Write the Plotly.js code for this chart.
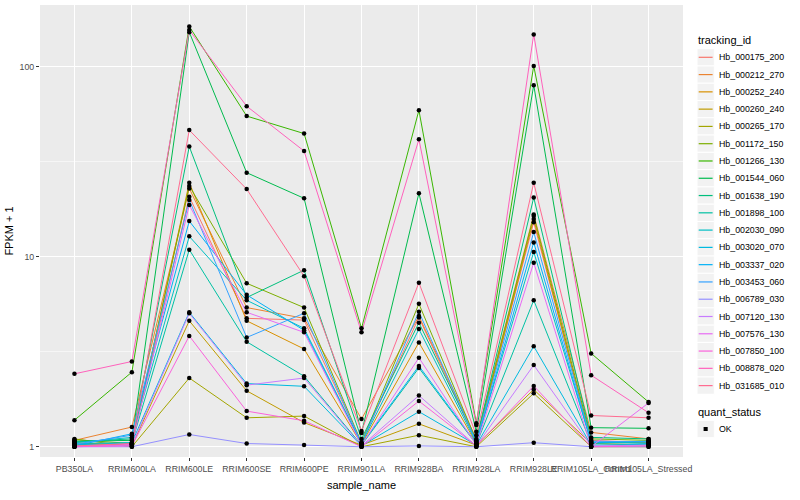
<!DOCTYPE html>
<html><head><meta charset="utf-8">
<script src="https://cdn.plot.ly/plotly-3.0.1.min.js"></script>
<style>body{margin:0;background:#fff}#chart{width:800px;height:500px}</style>
</head><body><div id="chart"></div>
<script>
const categories = ["PB350LA","RRIM600LA","RRIM600LE","RRIM600SE","RRIM600PE","RRIM901LA","RRIM928BA","RRIM928LA","RRIM928LE","RRIM105LA_Control","RRIM105LA_Stressed"];

const trackingIds = ["Hb_000175_200","Hb_000212_270","Hb_000252_240","Hb_000260_240","Hb_000265_170","Hb_001172_150","Hb_001266_130","Hb_001544_060","Hb_001638_190","Hb_001898_100","Hb_002030_090","Hb_003020_070","Hb_003337_020","Hb_003453_060","Hb_006789_030","Hb_007120_130","Hb_007576_130","Hb_007850_100","Hb_008878_020","Hb_031685_010"];

const seriesColors = ["#F8766D","#EA8331","#D89000","#C09B00","#A3A500","#7CAE00","#39B600","#00BB4E","#00BF7D","#00C1A3","#00BFC4","#00BAE0","#00B0F6","#35A2FF","#9590FF","#C77CFF","#E76BF3","#FA62DB","#FF62BC","#FF6C91"];

// FPKM + 1 per sample (order of categories)
const hb_000175_200 = [1.02, 1.03, 20.7, 4.74, 4.64, 1.05, 4.79, 1.06, 15.2, 1.08, 1.05];
const hb_000212_270 = [1.08, 1.27, 22.9, 5.4, 4.74, 1.4, 4.87, 1.1, 16.7, 1.19, 1.1];
const hb_000252_240 = [1.05, 1.02, 24.5, 4.6, 3.27, 1.03, 3.54, 1.04, 15.8, 1.05, 1.05];
const hb_000260_240 = [1.03, 1.01, 4.6, 1.97, 1.34, 1.02, 1.32, 1.02, 2.0, 1.04, 1.02];
const hb_000265_170 = [1.1, 1.0, 2.3, 1.42, 1.45, 1.0, 1.15, 1.0, 1.91, 1.0, 1.0];
const hb_001172_150 = [1.09, 1.04, 23.6, 7.25, 5.4, 1.05, 5.65, 1.08, 16.4, 1.1, 1.08];
const hb_001266_130 = [1.38, 2.47, 163, 55, 44.5, 4.2, 59, 1.33, 101, 3.1, 1.72];
const hb_001544_060 = [1.07, 1.08, 152, 27.7, 20.3, 1.18, 21.6, 1.2, 80, 1.26, 1.25];
const hb_001638_190 = [1.06, 1.1, 38, 6.1, 8.5, 1.1, 4.49, 1.08, 20.5, 1.12, 1.1];
const hb_001898_100 = [1.04, 1.05, 10.9, 3.57, 2.35, 1.02, 2.6, 1.03, 5.9, 1.04, 1.06];
const hb_002030_090 = [1.05, 1.12, 12.8, 5.9, 4.2, 1.04, 4.16, 1.05, 10.6, 1.06, 1.04];
const hb_003020_070 = [1.02, 1.05, 5.1, 2.15, 2.08, 1.01, 1.53, 1.02, 3.38, 1.02, 1.03];
const hb_003337_020 = [1.01, 1.17, 15.4, 6.3, 4.1, 1.03, 2.66, 1.04, 11.9, 1.05, 1.07];
const hb_003453_060 = [1.03, 1.15, 19.9, 3.76, 5.04, 1.04, 5.13, 1.06, 13.5, 1.07, 1.06];
const hb_006789_030 = [1.0, 1.0, 1.16, 1.04, 1.02, 1.0, 1.01, 1.0, 1.05, 1.0, 1.0];
const hb_007120_130 = [1.0, 1.02, 5.04, 2.11, 2.3, 1.01, 1.86, 1.01, 2.69, 1.01, 1.02];
const hb_007576_130 = [1.0, 1.03, 18.7, 5.1, 4.0, 1.02, 2.94, 1.02, 9.3, 1.0, 1.7];
const hb_007850_100 = [1.0, 1.01, 3.83, 1.54, 1.37, 1.0, 1.74, 1.01, 2.09, 1.0, 1.01];
const hb_008878_020 = [2.42, 2.81, 156, 62, 36, 4.0, 41.5, 1.3, 148, 2.38, 1.51];
const hb_031685_010 = [1.01, 1.04, 46.4, 22.7, 7.9, 1.21, 7.3, 1.15, 24.5, 1.46, 1.42];

const yTickVals = [1, 10, 100];
const yTickText = ["1", "10", "100"];
const yMinorVals = [3.1623, 31.623];
const quantStatus = ["OK"];

const seriesValues = [hb_000175_200, hb_000212_270, hb_000252_240, hb_000260_240, hb_000265_170, hb_001172_150, hb_001266_130, hb_001544_060, hb_001638_190, hb_001898_100, hb_002030_090, hb_003020_070, hb_003337_020, hb_003453_060, hb_006789_030, hb_007120_130, hb_007576_130, hb_007850_100, hb_008878_020, hb_031685_010];

const traces = trackingIds.map((id, i) => ({
  type: 'scatter', mode: 'lines', x: categories, y: seriesValues[i], name: id,
  line: {color: seriesColors[i], width: 1}, showlegend: false
}));
const ptX = [], ptY = [];
seriesValues.forEach(v => v.forEach((y, j) => { ptX.push(categories[j]); ptY.push(y); }));
traces.push({type: 'scatter', mode: 'markers', x: ptX, y: ptY, name: quantStatus[0],
  marker: {color: 'black', size: 4.5, symbol: 'circle'}, showlegend: false});

const W = 800, H = 500, L = 40, R = 683, T = 5, B = 457;
const pX = p => (p - L) / (R - L);
const pY = p => (B - p) / (B - T);

const shapes = [], annotations = [];
annotations.push({xref: 'paper', yref: 'paper', x: pX(696), y: pY(40.5), xanchor: 'left', yanchor: 'middle',
  text: 'tracking_id', showarrow: false, font: {size: 11, color: 'black'}});
trackingIds.forEach((id, i) => {
  const cy = 57.3 + i * 17.28;
  shapes.push({type: 'rect', xref: 'paper', yref: 'paper', x0: pX(697), x1: pX(714.3), y0: pY(cy + 8.64), y1: pY(cy - 8.64),
    fillcolor: '#F2F2F2', line: {color: 'white', width: 1}, layer: 'above'});
  shapes.push({type: 'line', xref: 'paper', yref: 'paper', x0: pX(698.7), x1: pX(712.6), y0: pY(cy), y1: pY(cy),
    line: {color: seriesColors[i], width: 1.2}, layer: 'above'});
  annotations.push({xref: 'paper', yref: 'paper', x: pX(716.5), y: pY(cy), xanchor: 'left', yanchor: 'middle',
    text: id, showarrow: false, font: {size: 8.8, color: 'black'}});
});
annotations.push({xref: 'paper', yref: 'paper', x: pX(696), y: pY(412), xanchor: 'left', yanchor: 'middle',
  text: 'quant_status', showarrow: false, font: {size: 11, color: 'black'}});
{
  const cy = 429;
  shapes.push({type: 'rect', xref: 'paper', yref: 'paper', x0: pX(697), x1: pX(714.3), y0: pY(cy + 8.64), y1: pY(cy - 8.64),
    fillcolor: '#F2F2F2', line: {color: 'white', width: 1}, layer: 'above'});
  shapes.push({type: 'rect', xref: 'paper', yref: 'paper', x0: pX(703.6), x1: pX(707.7), y0: pY(cy + 2), y1: pY(cy - 2),
    fillcolor: 'black', line: {width: 0}, layer: 'above'});
  annotations.push({xref: 'paper', yref: 'paper', x: pX(716.5), y: pY(cy), xanchor: 'left', yanchor: 'middle',
    text: quantStatus[0], showarrow: false, font: {size: 8.8, color: 'black'}});
}

const layout = {
  width: W, height: H,
  margin: {l: L, r: W - R, t: T, b: H - B, pad: 0},
  paper_bgcolor: 'white', plot_bgcolor: '#EBEBEB',
  font: {family: 'Liberation Sans, Arial, sans-serif', size: 8.8, color: '#4D4D4D'},
  showlegend: false,
  xaxis: {type: 'category', categoryorder: 'array', categoryarray: categories, range: [-0.6, 10.6],
    tickangle: 0, showgrid: true, gridcolor: 'white', gridwidth: 1.1, zeroline: false, showline: false,
    ticks: 'outside', ticklen: 3, tickwidth: 1, tickcolor: '#333333',
    tickfont: {size: 8.8, color: '#4D4D4D'}, automargin: false, fixedrange: true,
    title: {text: 'sample_name', font: {size: 11, color: 'black'}, standoff: 8}},
  yaxis: {type: 'log', range: [-0.054, 2.325], tickvals: yTickVals, ticktext: yTickText,
    showgrid: true, gridcolor: 'white', gridwidth: 1.1, zeroline: false, showline: false,
    ticks: 'outside', ticklen: 3, tickwidth: 1, tickcolor: '#333333',
    tickfont: {size: 8.8, color: '#4D4D4D'}, automargin: false, fixedrange: true,
    minor: {tickvals: yMinorVals, showgrid: true, gridcolor: 'white', gridwidth: 0.55, ticks: ''},
    title: {text: 'FPKM + 1', font: {size: 11, color: 'black'}, standoff: 3}},
  shapes: shapes, annotations: annotations
};

Plotly.newPlot('chart', traces, layout, {displayModeBar: false, staticPlot: true});
</script></body></html>
